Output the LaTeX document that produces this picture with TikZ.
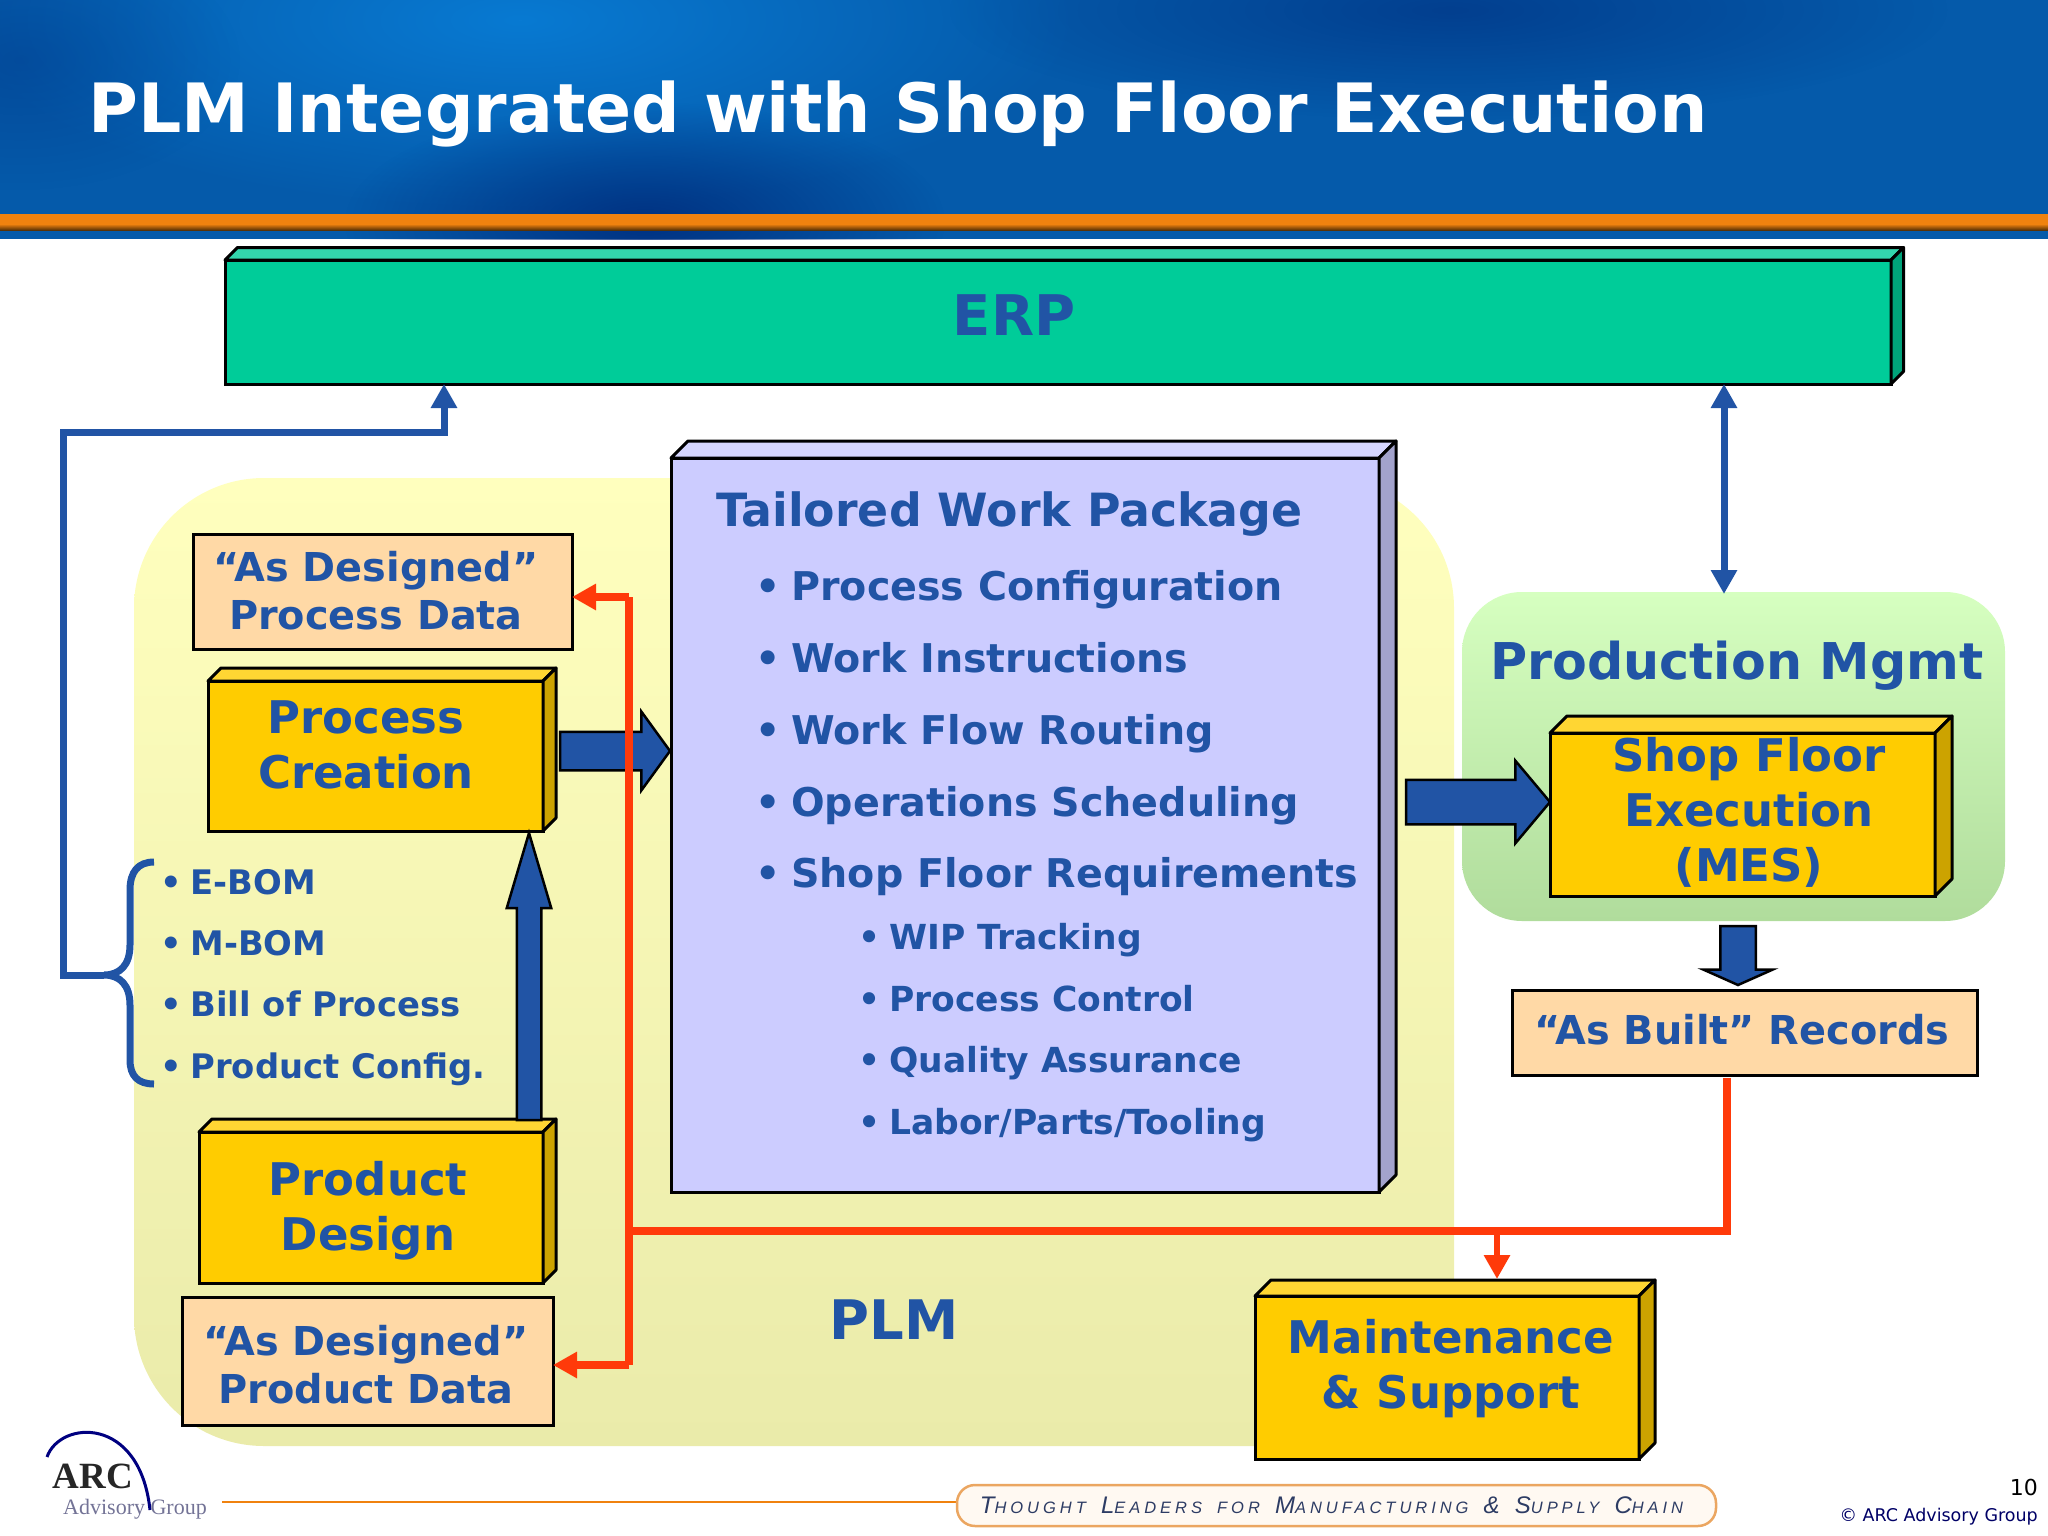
\documentclass[tikz,border=0pt]{standalone}
\usepackage{fontspec}
\setmainfont{DejaVu Sans}
\newfontfamily\logofont{Liberation Serif}
\newfontfamily\tagfont[LetterSpace=24]{Liberation Sans}
\usetikzlibrary{arrows.meta,calc,shapes.arrows,fadings}
\definecolor{txtblue}{RGB}{33,84,165}
\definecolor{headblue}{RGB}{5,90,170}
\definecolor{headdark}{RGB}{0,45,125}
\definecolor{headlight}{RGB}{8,122,210}
\definecolor{barorange}{RGB}{240,130,15}
\definecolor{barbrown}{RGB}{90,50,5}
\definecolor{plmtop}{RGB}{255,255,190}
\definecolor{plmbot}{RGB}{234,235,170}
\definecolor{mgmttop}{RGB}{214,255,192}
\definecolor{mgmtbot}{RGB}{176,220,156}
\definecolor{redline}{RGB}{255,58,10}
\definecolor{slabyellow}{RGB}{255,204,0}
\definecolor{slabyellowtop}{RGB}{255,214,51}
\definecolor{slabyellowside}{RGB}{204,163,0}
\definecolor{slabgreen}{RGB}{0,204,153}
\definecolor{slabgreentop}{RGB}{51,214,173}
\definecolor{slabgreenside}{RGB}{0,163,122}
\definecolor{slabblue}{RGB}{204,204,255}
\definecolor{slabbluetop}{RGB}{214,214,255}
\definecolor{slabblueside}{RGB}{163,163,204}
\definecolor{peach}{RGB}{255,217,166}
\definecolor{mottoink}{RGB}{45,60,100}
\tikzfading[name=headspot,inner color=transparent!0,outer color=transparent!100]
\tikzset{
  slab/.style={draw=black,line width=3pt,inner sep=0pt,outer sep=0pt},
  peachbox/.style={slab,fill=peach},
  boxtext/.style={text=txtblue,inner sep=0pt,align=center,font=\bfseries\fontsize{45}{55}\selectfont},
  datatext/.style={boxtext,font=\bfseries\fontsize{39.8}{48}\selectfont},
  wpitem/.style={text=txtblue,inner sep=0pt,anchor=west,text height=30pt,text depth=0pt,font=\bfseries\fontsize{39.6}{46}\selectfont},
  wpsub/.style={wpitem,text height=26pt,font=\bfseries\fontsize{34.5}{40}\selectfont},
  bomitem/.style={wpitem,text height=25pt,font=\bfseries\fontsize{33.8}{40}\selectfont},
  bluelink/.style={draw=txtblue,line width=7pt},
  redlink/.style={draw=redline,line width=7.5pt,line cap=square},
  blockarrow/.style={single arrow,draw=black,fill=txtblue,line width=2.5pt,inner xsep=0pt,outer sep=0pt,anchor=tip},
  spot/.style={path fading=headspot},
}
% front face in (#1), then lid and side with depth #2
\newcommand{\slabdepth}[3]{
  \fill[#3top,draw=black,line width=3pt,line join=round] (#1.north west) -- ++(#2,-#2) -- ($(#1.north east)+(#2,-#2)$) -- (#1.north east) -- cycle;
  \fill[#3side,draw=black,line width=3pt,line join=round] (#1.north east) -- ++(#2,-#2) -- ($(#1.south east)+(#2,-#2)$) -- (#1.south east) -- cycle;
}
\newcommand{\itm}{•\kern-3pt\ }
\newcommand{\capsc}[2]{{\fontsize{24}{24}\selectfont #1}{\fontsize{16.5}{24}\selectfont #2}\hspace{10pt}}
\begin{document}
\begin{tikzpicture}[x=1pt,y=-1pt,>={Triangle[length=24pt,width=25pt]}]
  \useasboundingbox (0,0) rectangle (2048,1536);
  % header band
  \fill[headblue] (0,0) rectangle (2048,239);
  \begin{scope}
    \clip (0,0) rectangle (2048,239);
    \fill[headlight,spot] (520,20) ellipse [x radius=560,y radius=190];
    \fill[headdark,opacity=.9,spot] (645,222) ellipse [x radius=300,y radius=120];
    \fill[headdark,opacity=.6,spot] (1450,10) ellipse [x radius=500,y radius=110];
    \fill[headdark,opacity=.35,spot] (20,60) ellipse [x radius=220,y radius=130];
  \end{scope}
  \fill[barorange] (0,214) rectangle (2048,224);
  \shade[top color=barorange,bottom color=barbrown] (0,224) rectangle (2048,230);
  \node[anchor=base west,text=white,inner sep=0pt,font=\bfseries\fontsize{68}{80}\selectfont] (title) at (88,133) {PLM Integrated with Shop Floor Execution};

  % regions
  \shade[top color=plmtop,bottom color=plmbot,rounded corners=130pt] (134,478) rectangle (1454,1446);
  \shade[top color=mgmttop,bottom color=mgmtbot,rounded corners=60pt] (1462,592) rectangle (2005,921);

  % ERP
  \node[slab,fill=slabgreen,minimum width=1666pt,minimum height=124pt] (erp) at (1058,322) {};
  \slabdepth{erp}{12.5}{slabgreen}
  \node[boxtext,font=\bfseries\fontsize{56}{60}\selectfont] (erptext) at (1014,315) {ERP};

  % work package
  \node[slab,fill=slabblue,minimum width=708pt,minimum height=734pt] (wp) at (1025,825) {};
  \slabdepth{wp}{17}{slabblue}
  \node[wpitem,text height=33pt,font=\bfseries\fontsize{45.8}{50}\selectfont] (wptitle) at (716,510) {Tailored Work Package};
  \node[wpitem] (wp1) at (755,585) {\itm Process Configuration};
  \node[wpitem] (wp2) at (755,657) {\itm Work Instructions};
  \node[wpitem] (wp3) at (755,729) {\itm Work Flow Routing};
  \node[wpitem] (wp4) at (755,801) {\itm Operations Scheduling};
  \node[wpitem] (wp5) at (755,872) {\itm Shop Floor Requirements};
  \node[wpsub] (sub1) at (858,936) {\itm WIP Tracking};
  \node[wpsub] (sub2) at (858,998) {\itm Process Control};
  \node[wpsub] (sub3) at (858,1059) {\itm Quality Assurance};
  \node[wpsub] (sub4) at (858,1121) {\itm Labor/Parts/Tooling};

  % PLM side
  \node[peachbox,minimum width=379pt,minimum height=115pt] (pdata) at (382.5,591.5) {};
  \node[datatext] (pdatatext) at (376,591) {“As Designed”\\Process Data};
  \node[slab,fill=slabyellow,minimum width=335pt,minimum height=150pt] (pc) at (375.5,756) {};
  \slabdepth{pc}{13}{slabyellow}
  \node[boxtext] (pctext) at (366,745) {Process\\Creation};
  \node[slab,fill=slabyellow,minimum width=344pt,minimum height=151pt] (pd) at (371,1207.5) {};
  \slabdepth{pd}{13}{slabyellow}
  \node[boxtext] (pdtext) at (368,1211) {Product\\Design};
  \node[peachbox,minimum width=371pt,minimum height=128pt] (prdata) at (367.5,1361) {};
  \node[datatext] (prdatatext) at (366,1365) {“As Designed”\\Product Data};
  \node[boxtext,font=\bfseries\fontsize{54.5}{60}\selectfont] (plm) at (894,1320) {PLM};

  % bom list
  \node[bomitem] (bom1) at (160,882) {\itm E-BOM};
  \node[bomitem] (bom2) at (160,943) {\itm M-BOM};
  \node[bomitem] (bom3) at (160,1004) {\itm Bill of Process};
  \node[bomitem] (bom4) at (160,1066) {\itm Product Config.};
  \coordinate (bracetip) at (104,975);
  \draw[bluelink] (154,862) .. controls (138,862) and (130,872) .. (130,890) -- (130,945) .. controls (130,965) and (120,975) .. (bracetip) .. controls (120,975) and (130,985) .. (130,1005) -- (130,1060) .. controls (130,1076) and (138,1084) .. (154,1084);

  % production mgmt
  \node[boxtext,font=\bfseries\fontsize{50.7}{54}\selectfont] (prod) at (1737,666) {Production Mgmt};
  \node[slab,fill=slabyellow,minimum width=385pt,minimum height=163pt] (mes) at (1742.5,814.5) {};
  \slabdepth{mes}{17}{slabyellow}
  \node[boxtext] (mestext) at (1749,812) {Shop Floor\\Execution\\(MES)};
  \node[peachbox,minimum width=465pt,minimum height=85pt] (built) at (1745,1032.5) {};
  \node[datatext] (builttext) at (1742,1030) {“As Built” Records};

  % maintenance
  \node[slab,fill=slabyellow,minimum width=384pt,minimum height=163pt] (maint) at (1447,1377.5) {};
  \slabdepth{maint}{16}{slabyellow}
  \node[boxtext] (mainttext) at (1451,1369) {Maintenance\\\& Support};

  % block arrows
  \coordinate (wpin) at (670,751);
  \coordinate (pcin) at (529,833);
  \coordinate (mesin) at (1550,802);
  \coordinate (builtin) at (1738,985);
  \node[blockarrow,minimum height=110pt,inner ysep=18pt,single arrow head extend=20pt,single arrow tip angle=108] (pcwp) at (wpin) {};
  \node[blockarrow,rotate=90,minimum height=287pt,inner ysep=11pt,single arrow head extend=10pt,single arrow tip angle=33] (pdpc) at (pcin) {};
  \node[blockarrow,minimum height=144pt,inner ysep=21pt,single arrow head extend=19pt,single arrow tip angle=100] (wpmes) at (mesin) {};
  \node[blockarrow,rotate=-90,minimum height=59pt,inner ysep=16.5pt,single arrow head extend=17pt,single arrow tip angle=132] (mesbuilt) at (builtin) {};

  % thin links
  \coordinate (erpin) at (444,384);
  \coordinate (erpout) at (1724,384);
  \coordinate (prodin) at (1724,594);
  \draw[bluelink,->,line join=miter] (bracetip) -- (63,975) -- (63,432) -- (444,432) -- (erpin);
  \draw[bluelink,<->] (erpout) -- (prodin);
  \coordinate (redtop) at (629,597);
  \coordinate (redbot) at (629,1365);
  \coordinate (redcross) at (629,1231);
  \coordinate (maintin) at (1497,1279);
  \coordinate (builtout) at (1727,1078);
  \draw[redlink] (redtop) -- (redbot);
  \draw[redlink,->,line cap=butt] (redtop) -- (pdata.east |- redtop);
  \draw[redlink,->,line cap=butt] (redbot) -- (prdata.east |- redbot);
  \draw[redlink,line cap=butt] (builtout) -- (builtout |- redcross) -- (redcross);
  \draw[redlink,->,line width=6.5pt,line cap=butt] (maintin |- redcross) -- (maintin);

  % footer
  \draw[barorange,line width=2.5pt] (222,1502) -- (957,1502);
  \node[draw=orange!55!brown!70!white,line width=2.5pt,fill=orange!5!white,rounded corners=18pt,minimum width=759pt,minimum height=41pt,inner sep=0pt,text=mottoink,font=\tagfont\itshape] (motto) at (1336.5,1505.5) {\capsc{T}{HOUGHT} \capsc{L}{EADERS} {\fontsize{16.5}{24}\selectfont FOR}\hspace{10pt} \capsc{M}{ANUFACTURING} \capsc{\&}{} \capsc{S}{UPPLY} \capsc{C}{HAIN}\hspace{-10pt}};
  \draw[blue!50!black,line width=3pt] (47,1457) .. controls (60,1420) and (140,1415) .. (150,1510);
  \node[text=black!85,inner sep=0pt,font=\logofont\bfseries\fontsize{37}{40}\selectfont] (arc) at (93,1476) {ARC};
  \node[text=blue!25!black!55,inner sep=0pt,font=\logofont\fontsize{22}{26}\selectfont] (advisory) at (135,1509) {Advisory Group};
  \node[anchor=east,inner sep=0pt,font=\fontsize{22}{24}\selectfont] (pageno) at (2038,1487) {10};
  \node[anchor=east,inner sep=0pt,text=blue!40!black,font=\fontsize{17.5}{20}\selectfont] (copyr) at (2038,1517) {© ARC Advisory Group};
\end{tikzpicture}
\end{document}
